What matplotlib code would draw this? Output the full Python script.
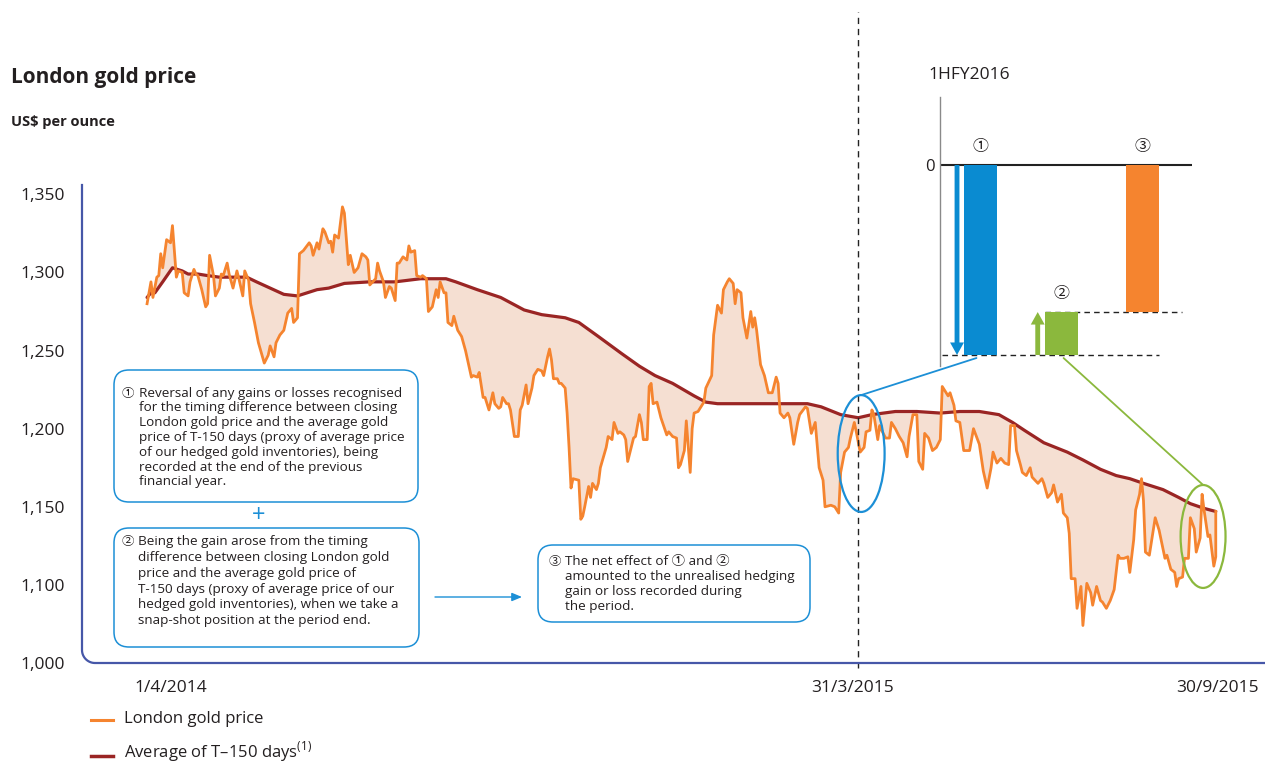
import numpy as np
import matplotlib.pyplot as plt
from matplotlib.patches import FancyBboxPatch, Ellipse, ConnectionPatch
from matplotlib.transforms import Affine2D, ScaledTranslation
from matplotlib.lines import Line2D

plt.rcParams['font.family'] = ['Open Sans', 'Noto Sans CJK JP', 'DejaVu Sans']
plt.rcParams['mathtext.fontset'] = 'custom'
plt.rcParams['mathtext.rm'] = 'Open Sans'

# ---- data (days counted from 1/4/2014) ----
gold_day = [
    0, 2, 3, 5, 6, 7, 8, 10, 12, 13, 15, 16, 18, 19, 21, 22, 24, 25, 26, 28,
    30, 31, 32, 34, 35, 37, 38, 39, 41, 42, 44, 46, 47, 49, 50, 52, 53, 55, 57, 60,
    62, 63, 65, 66, 68, 70, 72, 74, 75, 77, 78, 80, 83, 84, 85, 87,
    88, 90, 91, 93, 94, 95, 96, 98, 100, 101, 103, 104, 106, 108, 110, 112, 113, 114, 117, 118,
    119, 121, 122, 124, 125, 127, 128, 129, 131, 133, 134, 135, 137, 138, 140, 141, 143, 144, 146, 148,
    149, 150, 152, 153, 154, 156, 157, 159, 161, 163, 166, 167, 169, 170, 172, 173, 175, 177, 178, 180,
    181, 182, 184, 185, 186, 188, 190, 191, 192, 194, 195, 197, 198, 200, 202, 203, 205, 206, 207, 208,
    210, 211, 212, 214, 215, 216, 217, 218, 221, 222, 223, 224, 226, 227, 228, 230, 231, 232, 235, 236,
    238, 239, 241, 242, 244, 245, 246, 249, 250, 252, 253, 254, 256, 257, 258, 259, 261, 263, 266, 267,
    269, 271, 272, 273, 275, 276, 278, 279, 280, 282, 285, 286, 289, 290, 292, 294, 295, 297, 298, 300,
    301, 302, 304, 305, 307, 309, 310, 311, 312, 314, 316, 318, 320, 322, 323, 324, 326, 328, 329, 331,
    333, 334, 337, 338, 340, 342, 344, 346, 347, 350, 352, 354, 355, 357, 359, 360, 362, 363,
    365, 367, 368, 370, 371, 372, 374, 375, 376, 378, 380, 381, 383, 385, 387, 389, 390, 392, 394, 395,
    397, 398, 400, 402, 404, 406, 407, 410, 411, 413, 414, 416, 418, 421, 423, 426, 428, 430, 432, 433,
    435, 437, 439, 441, 442, 444, 445, 447, 448, 450, 452, 453, 456, 458, 459, 461, 463, 464, 466, 468,
    469, 471, 472, 473, 475, 476, 478, 479, 481, 483, 484, 486, 488, 489, 491, 493, 495, 497, 498, 500,
    502, 503, 505, 506, 508, 509, 510, 511, 513, 515, 516, 518, 521, 522, 524, 526, 527, 528, 530, 531,
    533, 534, 536, 537, 539, 540, 541, 543, 544, 546, 547, 547,
]
gold_price = [
    1280, 1294, 1284, 1297, 1298, 1312, 1303, 1321, 1319, 1330, 1297, 1301, 1300, 1287, 1285, 1294, 1302, 1299, 1298, 1289,
    1278, 1280, 1311, 1298, 1285, 1290, 1299, 1298, 1306, 1299, 1290, 1301, 1296, 1285, 1301, 1295, 1280, 1268, 1255, 1242,
    1247, 1253, 1246, 1255, 1260, 1263, 1274, 1277, 1268, 1271, 1312, 1314, 1319, 1317, 1311, 1319,
    1315, 1328, 1326, 1319, 1320, 1313, 1324, 1322, 1342, 1338, 1305, 1311, 1300, 1303, 1312, 1310, 1308, 1292, 1296, 1306,
    1301, 1294, 1284, 1291, 1290, 1282, 1306, 1306, 1310, 1308, 1317, 1313, 1314, 1298, 1297, 1298, 1296, 1275, 1278, 1289,
    1284, 1294, 1287, 1287, 1268, 1266, 1272, 1263, 1259, 1250, 1233, 1234, 1233, 1236, 1220, 1220, 1212, 1223, 1216, 1213,
    1214, 1220, 1216, 1216, 1212, 1195, 1195, 1212, 1215, 1228, 1216, 1226, 1234, 1238, 1237, 1234, 1246, 1251, 1244, 1232,
    1232, 1229, 1229, 1226, 1210, 1188, 1162, 1168, 1167, 1142, 1144, 1150, 1163, 1156, 1165, 1161, 1165, 1175, 1188, 1195,
    1193, 1204, 1197, 1198, 1196, 1193, 1179, 1194, 1195, 1209, 1204, 1193, 1193, 1227, 1229, 1216, 1217, 1207, 1196, 1198,
    1195, 1194, 1175, 1177, 1186, 1205, 1172, 1200, 1210, 1211, 1217, 1226, 1234, 1260, 1279, 1274, 1289, 1294, 1296, 1293,
    1280, 1289, 1287, 1271, 1258, 1275, 1265, 1271, 1263, 1241, 1234, 1223, 1223, 1233, 1229, 1210, 1207, 1210, 1207, 1190,
    1204, 1209, 1214, 1213, 1197, 1204, 1175, 1167, 1150, 1151, 1150, 1146, 1172, 1185, 1188, 1194, 1204, 1198,
    1185, 1188, 1198, 1199, 1212, 1209, 1193, 1202, 1199, 1194, 1194, 1204, 1200, 1195, 1191, 1182, 1195, 1209, 1209, 1179,
    1174, 1197, 1194, 1186, 1188, 1193, 1227, 1221, 1223, 1215, 1205, 1204, 1186, 1186, 1200, 1190, 1173, 1162, 1175, 1185,
    1178, 1181, 1178, 1177, 1202, 1202, 1186, 1177, 1172, 1170, 1175, 1169, 1165, 1168, 1165, 1156, 1159, 1164, 1153, 1158,
    1146, 1143, 1133, 1104, 1104, 1085, 1099, 1074, 1101, 1095, 1087, 1099, 1090, 1089, 1085, 1090, 1097, 1119, 1117, 1117,
    1118, 1108, 1129, 1148, 1158, 1168, 1154, 1121, 1119, 1135, 1143, 1135, 1117, 1119, 1110, 1108, 1099, 1104, 1105, 1117,
    1117, 1143, 1136, 1121, 1130, 1158, 1148, 1131, 1132, 1112, 1118, 1147,
]
avg_day = [
    0, 2, 4, 8, 13, 18, 21, 26, 31, 37, 51, 56, 63, 70, 77, 87, 93, 101, 114, 127,
    140, 153, 158, 169, 181, 193, 202, 214, 221, 231, 243, 252, 260, 269, 280, 286, 292, 307, 323, 338,
    345, 355, 364, 371, 383, 394, 406, 416, 426, 436, 443, 449, 459, 471, 479, 488, 496, 503, 510, 520,
    528, 534, 541, 547,
]
avg_price = [
    1284, 1287, 1287, 1294, 1303, 1301, 1299, 1299, 1298, 1297, 1297, 1294, 1290, 1286, 1285, 1289, 1290, 1293, 1294, 1294,
    1296, 1296, 1294, 1289, 1284, 1276, 1273, 1271, 1268, 1259, 1248, 1240, 1234, 1229, 1221, 1217, 1216, 1216, 1216, 1216,
    1214, 1209, 1207, 1209, 1211, 1211, 1210, 1211, 1211, 1209, 1204, 1199, 1191, 1185, 1180, 1174, 1170, 1168, 1165, 1161,
    1156, 1152, 1149, 1147,
]

# axis break: bottom of the axis is labelled 1,000
y_ticks = [1050, 1100, 1150, 1200, 1250, 1300, 1350]
y_labels = ['1,000', '1,100', '1,150', '1,200', '1,250', '1,300', '1,350']
x_ticks = [0, 364, 547]
x_labels = ['1/4/2014', '31/3/2015', '30/9/2015']

# 1HFY2016 inset (relative size, no scale given)
bar_names = ['①', '②', '③']
bar_start = [0, -1.0, 0]
bar_change = [-1.0, 0.226, -0.774]

ORANGE = '#f5842f'
DARKRED = '#9a2524'
FILL = '#f5dfd2'
AXBLUE = '#4657a8'
BOXBLUE = '#1c8fd6'
BAR_BLUE = '#0a8bd1'
GREEN = '#8bb83d'
TXT = '#231f20'

W, H = 1265, 763
fig = plt.figure(figsize=(W / 100, H / 100), dpi=100)
px = Affine2D().scale(1 / W, 1 / H) + fig.transFigure


def fy(y):
    return H - y


# ---- main chart ----
ax = fig.add_axes([82 / W, (H - 663) / H, (1265 - 82) / W, (663 - 185) / H])
ax.set_xlim(-33.3, 572.2)
ax.set_ylim(1050, 1356)
for s in ax.spines.values():
    s.set_visible(False)

ax.fill(np.r_[gold_day, avg_day[::-1]], np.r_[gold_price, avg_price[::-1]],
        color=FILL, lw=0, zorder=1)
ax.plot(avg_day, avg_price, color=DARKRED, lw=2.3, zorder=2, solid_capstyle='round')
ax.plot(gold_day, gold_price, color=ORANGE, lw=2.0, zorder=3, solid_joinstyle='round')

ax.set_yticks(y_ticks, y_labels)
ax.set_xticks([])
ax.tick_params(axis='y', length=0, pad=12, labelsize=12.5, labelcolor=TXT)

x_shift = [24, -6, 2]
for d, lab, sh in zip(x_ticks, x_labels, x_shift):
    tr = ax.get_xaxis_transform() + ScaledTranslation(sh / 100, 0, fig.dpi_scale_trans)
    ax.text(d, -0.053, lab, transform=tr, ha='center', va='center',
            fontsize=12.5, color=TXT)

# axis lines with rounded corner
r = 13
arc = np.linspace(np.pi, 1.5 * np.pi, 20)
cx = np.r_[82, 82 + r + r * np.cos(arc), 1265]
cy = np.r_[fy(185), fy(663 - r) + r * np.sin(arc), fy(663)]
fig.add_artist(Line2D(cx, cy, transform=px, color=AXBLUE, lw=1.6))

# dashed period line
ax.axvline(364, ymin=-0.01, ymax=(663 - 12) / 478, color='#222222', lw=1,
           dashes=(4.5, 3.5), clip_on=False, zorder=4)

# ellipses
ell_b = Ellipse((365.5, 1184.1), 24.0, 74.8, fill=False, ec=BOXBLUE, lw=1.6, zorder=5)
ell_g = Ellipse((540.5, 1131.0), 23.0, 65.9, fill=False, ec=GREEN, lw=1.6, zorder=5)
ax.add_patch(ell_b)
ax.add_patch(ell_g)

# ---- inset waterfall ----
ax2 = fig.add_axes([940 / W, fy(366) / H, (1192 - 940) / W, (366 - 97) / H])
ax2.set_xlim(-0.5, 2.61)
ax2.set_ylim(-1.058, 0.358)
ax2.patch.set_alpha(0)
for k in ['top', 'right', 'bottom']:
    ax2.spines[k].set_visible(False)
ax2.spines['left'].set_color('#8a8a8a')
ax2.spines['left'].set_linewidth(1)
ax2.set_xticks([])
ax2.set_yticks([0], ['0'])
ax2.tick_params(axis='y', length=0, pad=4, labelsize=12, labelcolor=TXT)
ax2.axhline(0, color='#222222', lw=1.5, zorder=1)

xb = np.arange(len(bar_change))
ax2.bar(xb, bar_change, bottom=bar_start, width=0.41,
        color=[BAR_BLUE, GREEN, ORANGE], zorder=2)
tops = [max(b, b + c) for b, c in zip(bar_start, bar_change)]
for x, t, name in zip(xb, tops, bar_names):
    ax2.annotate(name, (x, t), xytext=(0, 13), textcoords='offset points',
                 ha='center', va='center', fontsize=11.5, color=TXT)

low = bar_start[1]
high = bar_start[1] + bar_change[1]
ax2.plot([-0.47, 2.2], [low, low], color='#222222', lw=1, dashes=(4, 3), zorder=1)
ax2.plot([0.8, 2.49], [high, high], color='#222222', lw=1, dashes=(4, 3), zorder=1)

ax2.annotate('', xy=(-0.29, low), xytext=(-0.29, 0),
             arrowprops=dict(color=BAR_BLUE, width=3.5, headwidth=10, headlength=9, shrink=0, lw=0))
ax2.annotate('', xy=(0.706, high), xytext=(0.706, low),
             arrowprops=dict(color=GREEN, width=3.5, headwidth=10, headlength=9, shrink=0, lw=0))

fig.text(928 / W, fy(75) / H, '1HFY2016', fontsize=12.5, color=TXT, va='center')

# connectors between ellipses and bars
con_b = ConnectionPatch(xyA=(365.5, 1221.5), coordsA=ax.transData,
                        xyB=(-0.05, -1.016), coordsB=ax2.transData,
                        color=BOXBLUE, lw=1.3, zorder=6)
con_g = ConnectionPatch(xyA=(1.025, -1.016), coordsA=ax2.transData,
                        xyB=(540.5, 1164.0), coordsB=ax.transData,
                        color=GREEN, lw=1.3, zorder=6)
fig.add_artist(con_b)
fig.add_artist(con_g)

# ---- titles ----
fig.text(11 / W, fy(78) / H, 'London gold price', fontsize=15, fontweight='bold',
         color=TXT, va='center')
fig.text(11 / W, fy(122) / H, 'US$ per ounce', fontsize=10.5, fontweight='bold',
         color=TXT, va='center')

# ---- explanation boxes ----
def note_box(x0, y0, x1, y1, mark, mark_x, text_x, lines, first_y, step):
    fig.add_artist(FancyBboxPatch((x0, fy(y1)), x1 - x0, y1 - y0,
                                  boxstyle='round,pad=0,rounding_size=15',
                                  transform=px, fc='white', ec=BOXBLUE, lw=1.1, zorder=5))
    fig.text(mark_x, fy(first_y), mark, transform=px, fontsize=9, color=TXT,
             va='center', zorder=6)
    for i, line in enumerate(lines):
        fig.text(text_x, fy(first_y + i * step), line, transform=px, fontsize=9.7,
                 color=TXT, va='center', zorder=6)


note_box(114, 370, 418, 502, '①', 122, 139,
         ['Reversal of any gains or losses recognised',
          'for the timing difference between closing',
          'London gold price and the average gold',
          'price of T-150 days (proxy of average price',
          'of our hedged gold inventories), being',
          'recorded at the end of the previous',
          'financial year.'], 393, 14.8)
note_box(114, 528, 419, 647, '②', 122, 138,
         ['Being the gain arose from the timing',
          'difference between closing London gold',
          'price and the average gold price of',
          'T-150 days (proxy of average price of our',
          'hedged gold inventories), when we take a',
          'snap-shot position at the period end.'], 542, 15.7)
note_box(538, 545, 810, 622, '③', 549, 565,
         ['The net effect of ① and ②',
          'amounted to the unrealised hedging',
          'gain or loss recorded during',
          'the period.'], 561, 15.3)

fig.text(259, fy(516), '+', transform=px, fontsize=17, color=BOXBLUE,
         ha='center', va='center')
fig.add_artist(ConnectionPatch((435, fy(597)), (522, fy(597)), coordsA=px, coordsB=px,
                               arrowstyle='-|>,head_length=0.6,head_width=0.25',
                               color=BOXBLUE, lw=1, zorder=6))

# ---- legend ----
fig.add_artist(Line2D([91, 113], [fy(720), fy(720)], transform=px, color=ORANGE, lw=2.2))
fig.add_artist(Line2D([91, 113], [fy(756), fy(756)], transform=px, color=DARKRED, lw=2.5))
fig.text(124, fy(719), 'London gold price', transform=px, fontsize=12,
         color=TXT, va='center')
fig.text(124, fy(752), 'Average of T–150 days$^{(1)}$', transform=px, fontsize=12,
         color=TXT, va='center')

fig.savefig('out.png', dpi=100)
